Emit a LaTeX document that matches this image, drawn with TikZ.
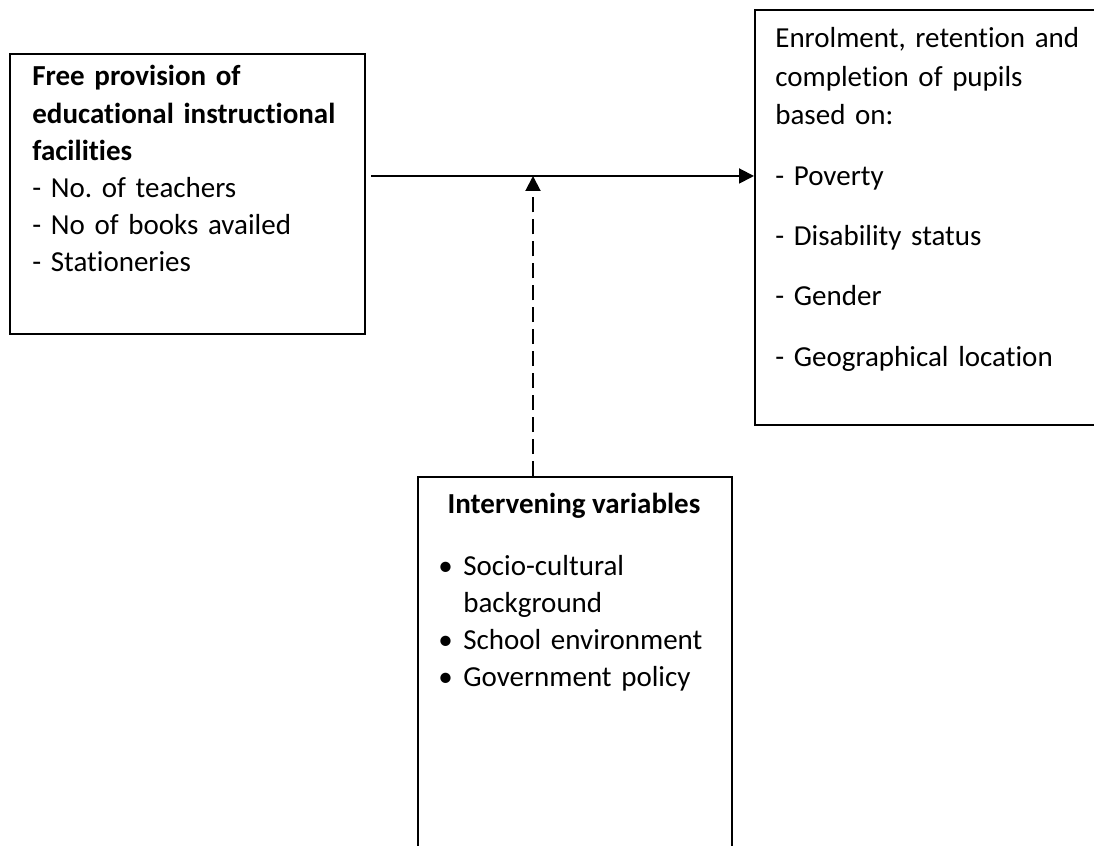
\documentclass[tikz,border=0pt]{standalone}
\usepackage{fontspec}
\setmainfont{Carlito}[Ligatures=NoCommon]
\usetikzlibrary{arrows.meta,positioning}
\frenchspacing

\begin{document}
\begin{tikzpicture}[
    box/.style={draw,line width=0.9pt,rectangle,inner sep=0pt,anchor=north west},
    boxtext/.style={anchor=base west,align=left,inner sep=0pt,text width=#1},
    boxtext/.default=6.8cm,
    link/.style={line width=1.1pt,-{Triangle[length=0.3cm,width=0.3cm]}}
  ]
  \useasboundingbox (0,0) rectangle (21.88,16.92);
  \clip (0,0) rectangle (21.88,16.92);

  % Three boxes (the right and bottom ones run off the page)
  \node[box,minimum width=7.1cm,minimum height=5.6cm] (facilities) at (0.18,15.86) {};
  \node[box,minimum width=7.2cm,minimum height=8.3cm] (outcome) at (15.08,16.74) {};
  \node[box,minimum width=6.28cm,minimum height=8cm] (intervening) at (8.34,7.40) {};

  % Independent variable
  \node[boxtext,font=\fontsize{16.5}{21.1}\selectfont] (facilitiestext) at (0.64,15.20)
    {\textbf{Free provision of}\\
     \textbf{educational instructional}\\
     \textbf{facilities}\\
     - No. of teachers\\
     - No of books availed\\
     - Stationeries};

  % Dependent variable
  \node[boxtext,font=\fontsize{16.5}{21.8}\selectfont] (outcometext) at (15.50,15.96)
    {Enrolment, retention and\\
     completion of pupils\\
     based on:\\[12.6pt]
     - Poverty\\[12.6pt]
     - Disability status\\[12.6pt]
     - Gender\\[12.6pt]
     - Geographical location};

  % Intervening variables
  \node[font=\fontsize{16.5}{21}\selectfont\bfseries,anchor=base,inner sep=0pt] (interveningtitle)
    at (11.48,6.64) {Intervening variables};
  \node[boxtext=6cm,font=\fontsize{16.5}{21}\selectfont] (interveninglist) at (8.76,5.40)
    {\begin{tabular}[t]{@{}l@{\hspace{6pt}}l@{}}
       \textbullet & Socio-cultural\\
                   & background\\
       \textbullet & School environment\\
       \textbullet & Government policy
     \end{tabular}};

  % Connectors
  \coordinate (start) at (7.42,13.40);
  \coordinate (junction) at (10.66,13.40);
  \draw[link] (start) -- (start -| outcome.west);
  \draw[link,dash pattern=on 8.5pt off 4pt] (intervening.north -| junction) -- (junction);
\end{tikzpicture}
\end{document}
